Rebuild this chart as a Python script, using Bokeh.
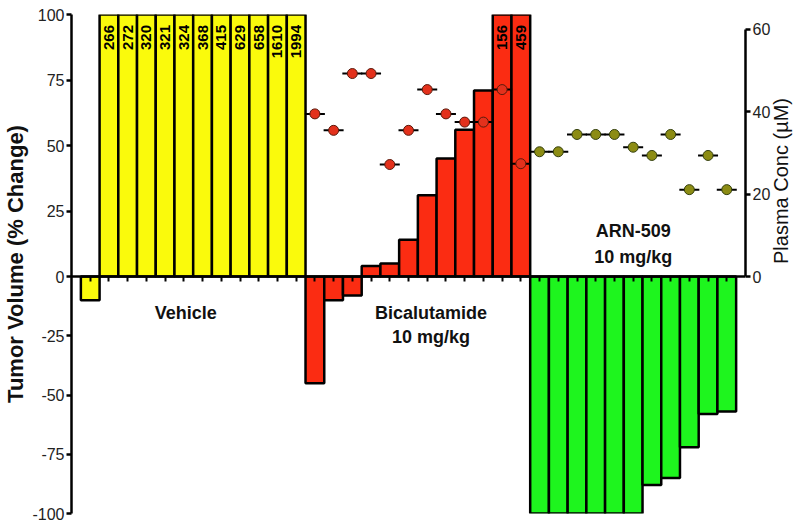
import math
from bokeh.plotting import figure
from bokeh.models import (ColumnDataSource, Range1d, LinearAxis, FixedTicker,
                          CustomJSTickFormatter)
from bokeh.core.properties import value
from bokeh.embed import file_html
from bokeh.resources import INLINE

# ---------------- data ----------------
group_names = ["Vehicle", "Bicalutamide", "ARN-509"]
group_doses = ["", "10 mg/kg", "10 mg/kg"]
vehicle_change = [-10, 266, 272, 320, 321, 324, 368, 415, 629, 658, 1610, 1994]
bicalutamide_change = [-45, -10, -8, 4, 5, 14, 31, 45, 56, 71, 156, 459]
arn509_change = [-100, -100, -100, -100, -100, -100, -88, -85, -72, -58, -57]
bicalutamide_conc = [39.5, 35.5, 49.3, 49.3, 27.2, 35.5, 45.4, 39.5, 37.5, 37.5, 45.4, 27.4]
arn509_conc = [30.3, 30.3, 34.5, 34.5, 34.5, 31.4, 29.4, 34.5, 21.1, 29.4, 21.1]
left_ticks = [-100, -75, -50, -25, 0, 25, 50, 75, 100]
right_ticks = [0, 20, 40, 60]
bar_colors = ["#fafa0c", "#fb2c12", "#1ef51e"]
dot_colors = [None, "#e3311c", "#8c8c14"]
dot_edges = [None, "#5a1a0c", "#34400e"]

# ---------------- layout constants ----------------
FONT = "Liberation Sans"
FRAME_W = 674
POS_PX = 262.0   # pixels from 0 to +100
NEG_PX = 237.0   # pixels from 0 to -100
FRAME_H = int(POS_PX + NEG_PX)
CONC_PX = 4.117  # pixels per uM on the right axis
K = NEG_PX / POS_PX

series = [vehicle_change, bicalutamide_change, arn509_change]
idx, vals, cols = [], [], []
i = 0
for g, s in enumerate(series):
    for v in s:
        idx.append(i); vals.append(v); cols.append(bar_colors[g]); i += 1
n_bars = i
starts = [0, len(vehicle_change), len(vehicle_change) + len(bicalutamide_change)]

pos = ColumnDataSource(dict(x=[a for a, v in zip(idx, vals) if v >= 0],
                            top=[v for v in vals if v >= 0],
                            c=[c for c, v in zip(cols, vals) if v >= 0]))
neg = ColumnDataSource(dict(x=[a for a, v in zip(idx, vals) if v < 0],
                            bottom=[v for v in vals if v < 0],
                            c=[c for c, v in zip(cols, vals) if v < 0]))

p = figure(frame_width=FRAME_W, frame_height=FRAME_H,
           x_range=Range1d(-1, n_bars),
           y_range=Range1d(-100 * K, 100),
           output_backend="svg", toolbar_location=None,
           x_axis_location=None, y_axis_location="left",
           min_border_left=65, min_border_right=40,
           min_border_top=14, min_border_bottom=8)
p.extra_y_ranges = {
    "neg": Range1d(-100, 100 / K),
    "conc": Range1d(-NEG_PX / CONC_PX, POS_PX / CONC_PX),
}
p.outline_line_color = None
p.grid.visible = False
p.background_fill_color = "white"

p.vbar(x="x", top="top", bottom=0, width=1, source=pos, fill_color="c",
       line_color="black", line_width=2.5)
p.vbar(x="x", top=0, bottom="bottom", width=1, source=neg, fill_color="c",
       line_color="black", line_width=2.5, y_range_name="neg")

# value labels on clipped bars
big = [(a, v) for a, v in zip(idx, vals) if v > 100]
lab = ColumnDataSource(dict(x=[a for a, v in big], y=[96] * len(big),
                            t=[str(v) for a, v in big]))
p.text(x="x", y="y", text="t", source=lab, angle=math.pi / 2,
       text_align="right", text_baseline="middle",
       text_font=value(FONT), text_font_style="bold",
       text_font_size="15px", text_color="black")

# plasma concentration points
for g, conc in ((1, bicalutamide_conc), (2, arn509_conc)):
    src = ColumnDataSource(dict(x=list(range(starts[g], starts[g] + len(conc))), y=conc))
    p.scatter(x="x", y="y", source=src, marker="dash", size=20,
              line_color="black", line_width=2, y_range_name="conc")
    p.scatter(x="x", y="y", source=src, marker="circle", size=10,
              fill_color=dot_colors[g], line_color=dot_edges[g], line_width=1,
              y_range_name="conc")

# group labels
def glabel(x, y, t, rng):
    p.text(x=[x], y=[y], text=[t], text_align="center", text_baseline="middle",
           text_font=value(FONT), text_font_style="bold", text_font_size="18px",
           text_color="#111111", y_range_name=rng)

glabel(5.1, -15.2, group_names[0], "neg")
glabel(18.2, -15.2, group_names[1], "neg")
glabel(18.2, -25.7, group_doses[1], "neg")
glabel(29.0, 17.2, group_names[2], "default")
glabel(29.0, 7.6, group_doses[2], "default")

# left axis
ya = p.yaxis[0]
ya.ticker = FixedTicker(ticks=[t if t >= 0 else t * K for t in left_ticks])
ya.formatter = CustomJSTickFormatter(
    code="const k = %r; return String(Math.round(tick < 0 ? tick / k : tick));" % K)
ya.axis_label = "Tumor Volume (% Change)"
ya.axis_label_text_font = FONT
ya.axis_label_text_font_style = "bold"
ya.axis_label_text_font_size = "22px"
ya.axis_label_text_color = "#111111"
ya.axis_label_standoff = 1

# right axis
ra = LinearAxis(y_range_name="conc", bounds=(0, 60),
                ticker=FixedTicker(ticks=right_ticks),
                axis_label="Plasma Conc (\u00b5M)")
ra.axis_label_text_font = FONT
ra.axis_label_text_font_style = "normal"
ra.axis_label_text_font_size = "20px"
ra.axis_label_text_color = "#111111"
ra.axis_label_standoff = 8
try:
    ra.axis_label_orientation = math.pi / 2
except Exception:
    pass
p.add_layout(ra, "right")

for ax in (ya, ra):
    ax.axis_line_width = 2.5
    ax.major_tick_line_width = 2.5
    ax.major_tick_out = 5
    ax.major_tick_in = 0
    ax.minor_tick_line_color = None
    ax.major_label_text_font = FONT
    ax.major_label_text_font_size = "16px"
    ax.major_label_text_color = "#222222"
    ax.major_label_standoff = 2

# zero line with bar ticks
xa = LinearAxis(fixed_location=0, ticker=FixedTicker(ticks=list(range(n_bars))),
                formatter=CustomJSTickFormatter(code="return '';"))
xa.axis_line_width = 2.5
xa.major_tick_line_width = 2
xa.major_tick_out = 5
xa.major_tick_in = 0
xa.minor_tick_line_color = None
xa.major_label_text_color = None
xa.major_label_standoff = 0
p.add_layout(xa, "below")

open("out.html", "w").write(file_html(p, INLINE))
